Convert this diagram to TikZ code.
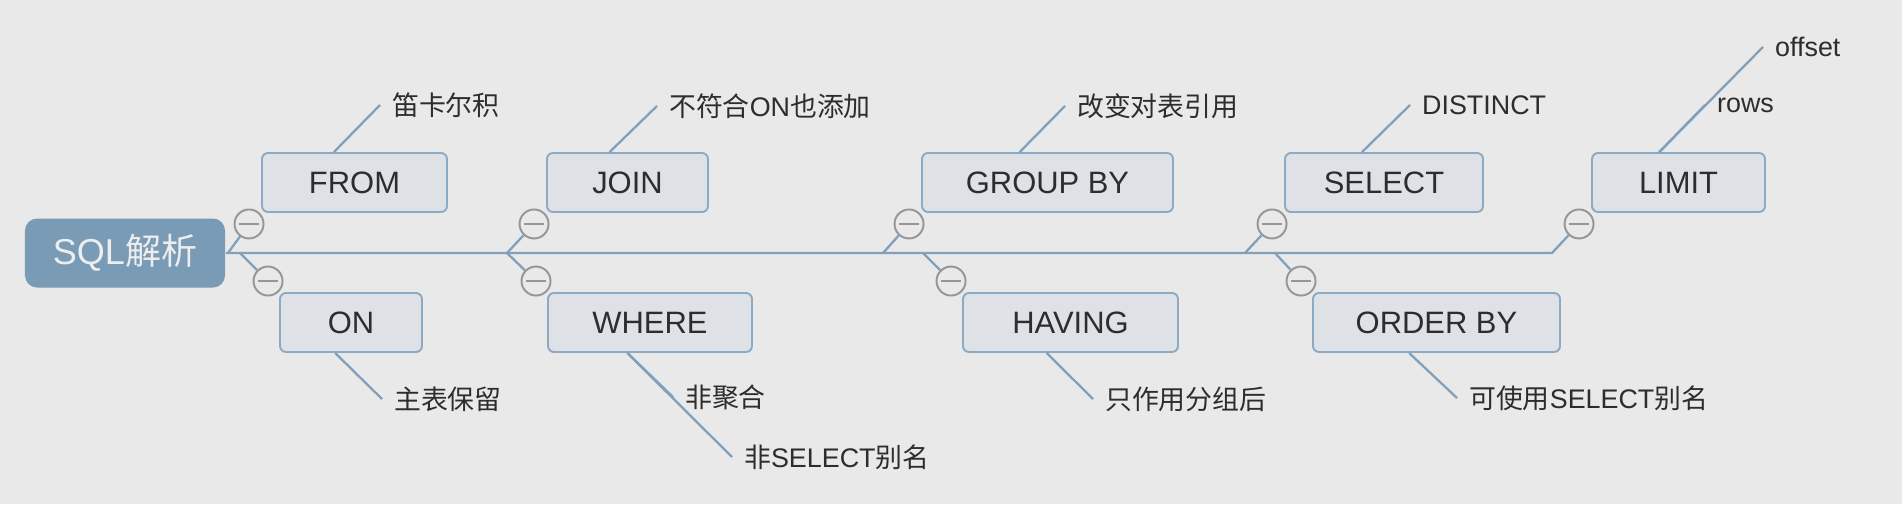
\documentclass[tikz,border=0pt]{standalone}
\usepackage{fontspec}
\usepackage{tikz}
\usetikzlibrary{calc}
\setmainfont{Liberation Sans}
\newfontfamily\cjk{Noto Sans CJK SC}
\definecolor{paper}{RGB}{233,233,233}
\definecolor{stem}{RGB}{128,160,187}
\definecolor{boxfill}{RGB}{222,226,231}
\definecolor{boxline}{RGB}{140,170,195}
\definecolor{rootfill}{RGB}{122,155,181}
\definecolor{ink}{RGB}{45,45,45}
\definecolor{knobgray}{RGB}{150,150,150}

\begin{document}
\begin{tikzpicture}
      [x = .2mm, y = -.2mm, line width = 1.3pt,
       root/.style = {fill = rootfill, rounded corners = 2.4mm, minimum width = 40mm,
         minimum height = 13.8mm, text = white!93!black,
         font = \fontsize{20.5}{24}\selectfont},
       topic/.style = {draw = boxline, fill = boxfill, rounded corners = 1.2mm,
         line width = 1.1pt, minimum height = 11.8mm, text = ink,
         font = \fontsize{17.6}{20}\selectfont},
       knob/.style = {circle, draw = knobgray, fill = paper, minimum size = 5.8mm,
         inner sep = 0pt, line width = 1.1pt,
         path picture = {\draw[knobgray, line width = 1.1pt]
           ([xshift = .9mm]path picture bounding box.west) --
           ([xshift = -.9mm]path picture bounding box.east);}},
       leaf/.style = {anchor = west, inner xsep = 2.2mm, text = ink,
         font = \fontsize{15.3}{18}\selectfont}]
      \useasboundingbox (0,0) rectangle (1902,504);
      \fill[paper] (0,0) rectangle (1902,504);
      \node[root] (sql) at (125,253) {SQL{\cjk 解析}};
      \foreach \n/\x/\w/\t in {from/354.5/185/FROM, join/627.5/161/JOIN,
          group/1047.5/251/GROUP BY, select/1384/198/SELECT, limit/1678.5/173/LIMIT}
        {
        \node[topic, minimum width = \w*0.2mm] (\n) at (\x,182.5) {\t};
        \node[knob] (k\n) at ($(\n.south west) + (-12,11)$) {};
        }
      \foreach \n/\x/\w/\t in {on/351/142/ON, where/650/204/WHERE,
          having/1070.5/215/HAVING, order/1436.5/247/ORDER BY}
        {
        \node[topic, minimum width = \w*0.2mm] (\n) at (\x,322.5) {\t};
        \node[knob] (k\n) at ($(\n.north west) + (-11,-11)$) {};
        }
      \foreach \n/\x in {from/228, on/240, join/507, where/507, group/883,
          having/923, select/1245, order/1275, limit/1552}
        \coordinate (f\n) at (\x,253);
      \draw[stem] (sql.east) -- (flimit) -- (klimit);
      \foreach \n in {from, on, join, where, group, having, select, order}
        \draw[stem] (f\n) -- (k\n);
      \node[leaf] (lfrom) at (380,105) {\cjk 笛卡尔积};
      \node[leaf] (ljoin) at (657,106) {{\cjk 不符合}ON{\cjk 也添加}};
      \node[leaf] (lgroup) at (1065,106) {\cjk 改变对表引用};
      \node[leaf] (lselect) at (1410,105) {DISTINCT};
      \node[leaf] (loffset) at (1763,47) {offset};
      \node[leaf] (lrows) at (1705,105) {rows};
      \node[leaf] (lon) at (382,399) {\cjk 主表保留};
      \node[leaf] (lwhere) at (673,397) {\cjk 非聚合};
      \node[leaf] (lalias) at (732,457) {{\cjk 非}SELECT{\cjk 别名}};
      \node[leaf] (lhaving) at (1093,399) {\cjk 只作用分组后};
      \node[leaf] (lorder) at (1457,398) {{\cjk 可使用}SELECT{\cjk 别名}};
      \foreach \n/\l in {from/lfrom, join/ljoin, group/lgroup, select/lselect,
          limit/loffset, limit/lrows}
        \draw[stem] ($(\n.north west)!.39!(\n.north east)$) -- (\l.west);
      \foreach \n/\l in {on/lon, where/lwhere, where/lalias, having/lhaving,
          order/lorder}
        \draw[stem] ($(\n.south west)!.39!(\n.south east)$) -- (\l.west);
\end{tikzpicture}
\end{document}
